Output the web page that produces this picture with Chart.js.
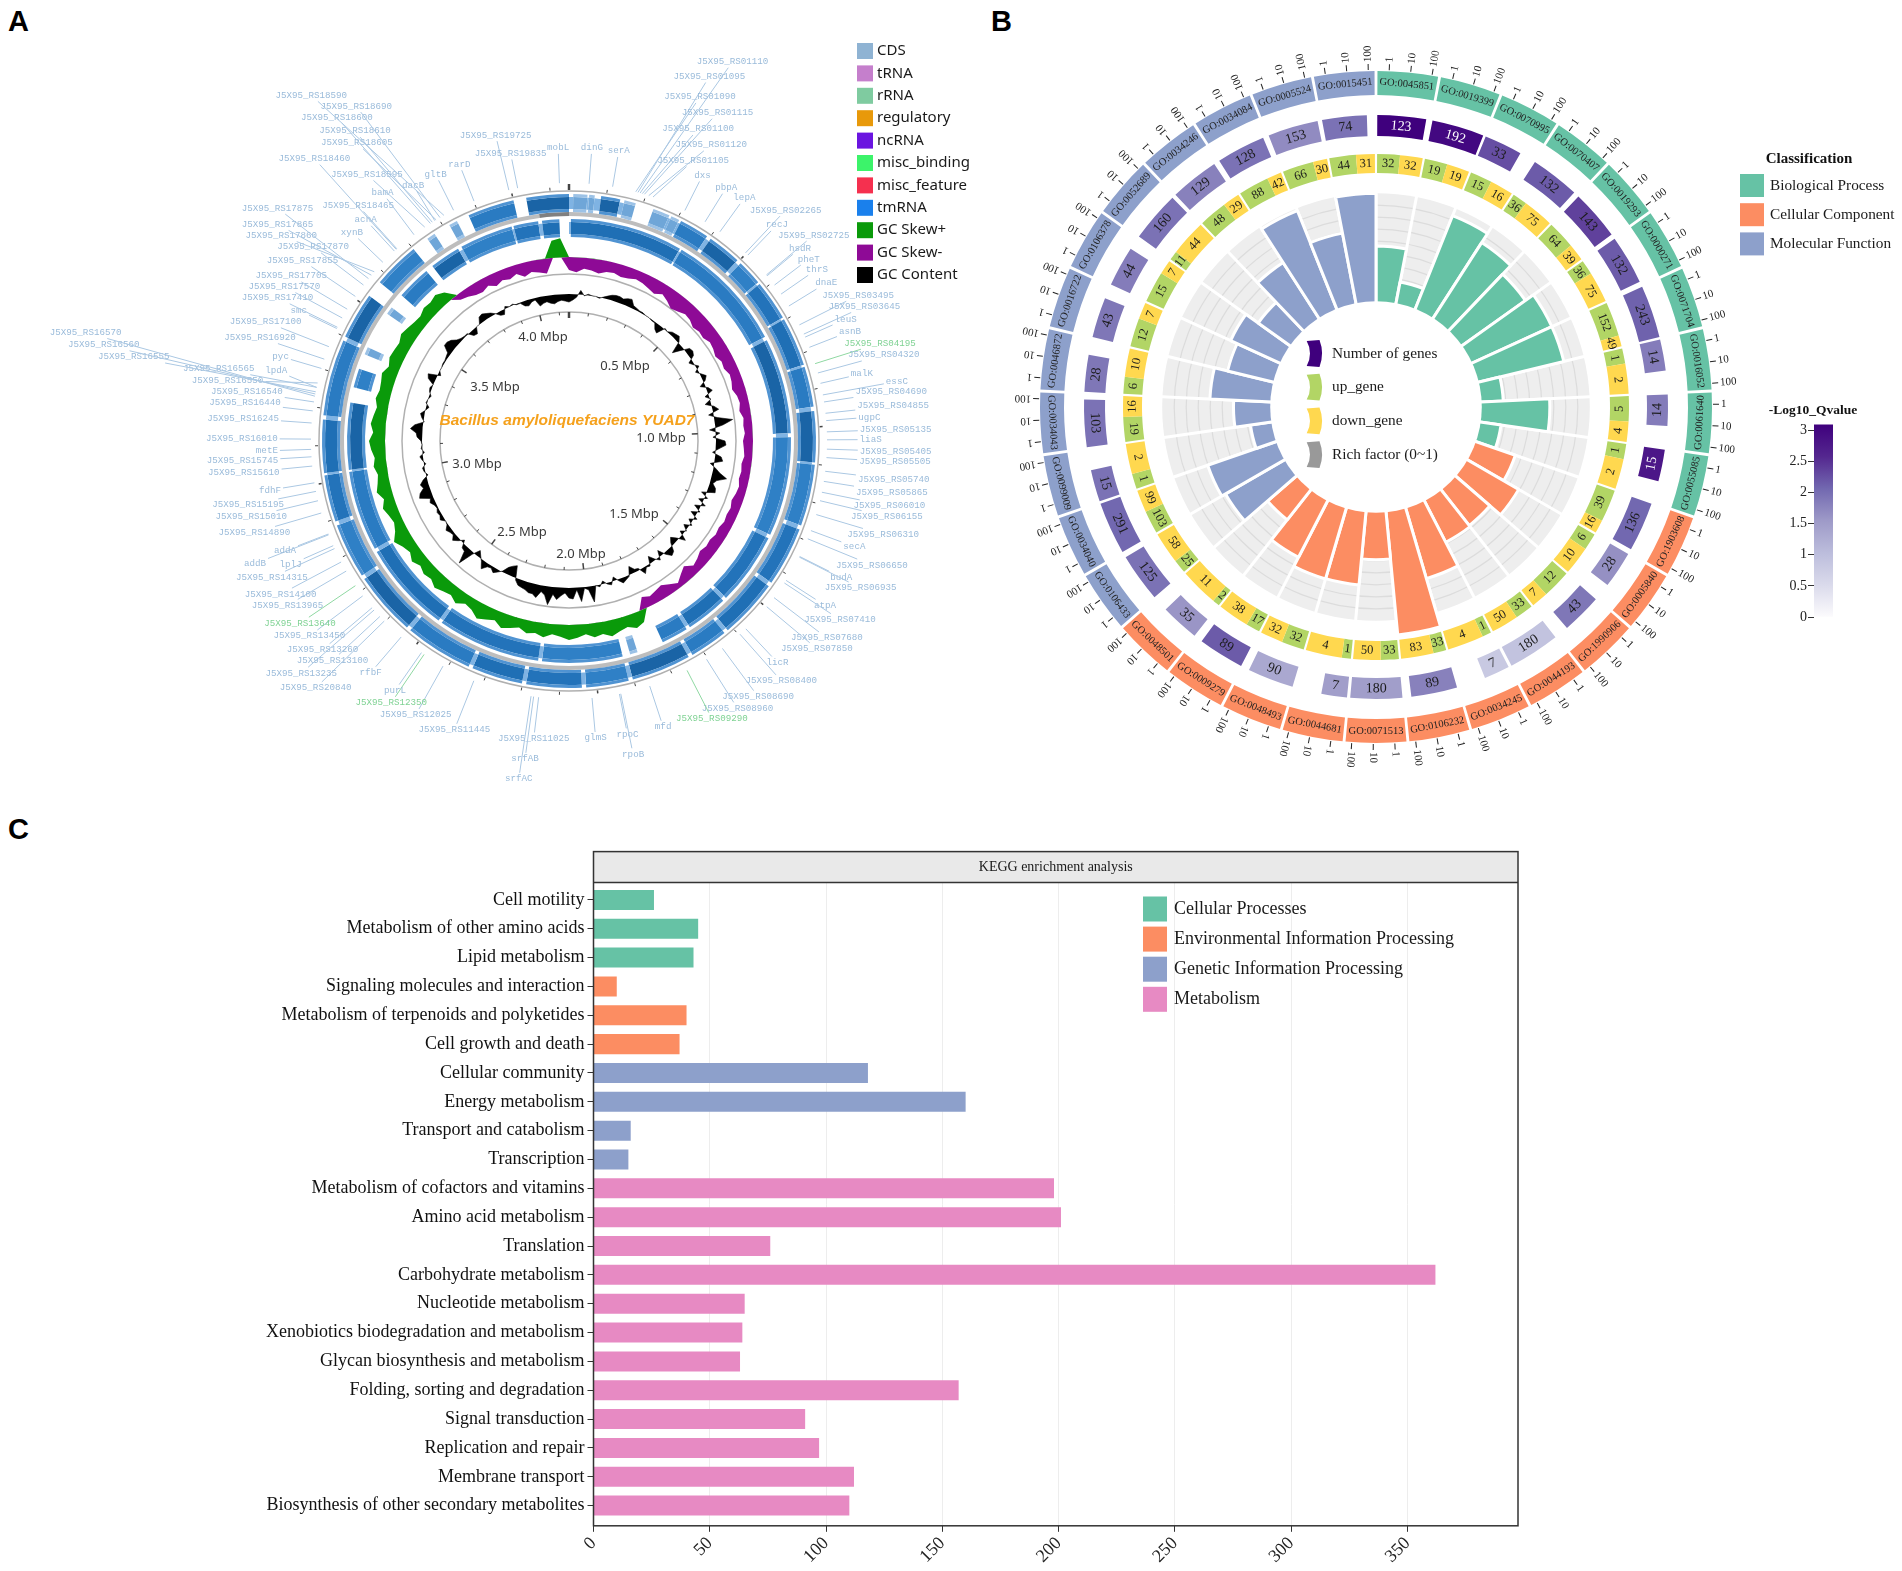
<!DOCTYPE html>
<html>
<head>
<meta charset="utf-8">
<title>Genome, GO and KEGG panels</title>
<script src="https://cdn.jsdelivr.net/npm/chart.js@4/dist/chart.umd.min.js"></script>
<style>
  html, body { margin: 0; background: #fff; }
  #page { position: relative; width: 1902px; height: 1571px; overflow: hidden; background: #fff; }
  #page canvas { position: absolute; }
  .panel-letter { position: absolute; font: bold 29px "Liberation Sans", sans-serif; color: #000; line-height: 1; }
</style>
</head>
<body>
<div id="page">
  <div class="panel-letter" style="left:8px;top:7px">A</div>
  <div class="panel-letter" style="left:991px;top:7px">B</div>
  <div class="panel-letter" style="left:8px;top:815px">C</div>
  <canvas id="genomeTracks" width="1138" height="882" style="left:0;top:0"></canvas>
  <canvas id="genomeSkew" width="1138" height="882" style="left:0;top:0"></canvas>
  <canvas id="genomeContent" width="1138" height="882" style="left:0;top:0"></canvas>
  <canvas id="goRich" width="460" height="460" style="left:1146px;top:177px"></canvas>
  <canvas id="goRings" width="1052" height="814" style="left:850px;top:0"></canvas>
  <canvas id="goScale" width="70" height="215" style="left:1770px;top:415px"></canvas>
  <canvas id="kegg" width="1902" height="731" style="left:0;top:840px"></canvas>
</div>
<script>
// ---------- panel C data
const keggLabels = ['Cell motility', 'Metabolism of other amino acids', 'Lipid metabolism', 'Signaling molecules and interaction',
  'Metabolism of terpenoids and polyketides', 'Cell growth and death', 'Cellular community', 'Energy metabolism',
  'Transport and catabolism', 'Transcription', 'Metabolism of cofactors and vitamins', 'Amino acid metabolism', 'Translation',
  'Carbohydrate metabolism', 'Nucleotide metabolism', 'Xenobiotics biodegradation and metabolism', 'Glycan biosynthesis and metabolism',
  'Folding, sorting and degradation', 'Signal transduction', 'Replication and repair', 'Membrane transport', 'Biosynthesis of other secondary metabolites'];
const keggValues = [26, 45, 43, 10, 40, 37, 118, 160, 16, 15, 198, 201, 76, 362, 65, 64, 63, 157, 91, 97, 112, 110];
const keggGroups = [0, 0, 0, 1, 1, 1, 2, 2, 2, 2, 3, 3, 3, 3, 3, 3, 3, 3, 3, 3, 3, 3];
const keggGroupNames = ['Cellular Processes', 'Environmental Information Processing', 'Genetic Information Processing', 'Metabolism'];
const keggTicks = [0, 50, 100, 150, 200, 250, 300, 350];
const set2 = ['#66C2A5', '#FC8D62', '#8DA0CB', '#E78AC3'];

// ---------- panel B data, clockwise from 12 o'clock
const goTerms = ['0045851', '0019399', '0070995', '0070407', '0019293', '0000271', '0071704', '0016052', '0061640', '0055085',
  '1903608', '0005840', '1990906', '0044193', '0034245', '0106232', '0071513', '0044681', '0048493', '0009279', '0048501',
  '0106433', '0034040', '0099009', '0034043', '0046872', '0016722', '0106378', '0052689', '0034246', '0034084', '0005524', '0015451'];
const goClass = [0,0,0,0,0,0,0,0,0,0, 1,1,1,1,1,1,1,1,1,1,1, 2,2,2,2,2,2,2,2,2,2,2,2];
const goGenes = [123, 192, 33, 132, 143, 132, 243, 14, 14, 15, 136, 28, 43, 180, 7, 89, 180, 7, 90, 89, 35, 125, 291, 15, 103, 28, 43, 44, 160, 129, 128, 153, 74];
const goQvalue = [3, 2.9, 2.2, 2.1, 2.3, 2.1, 2.05, 1.8, 1.8, 2.7, 2, 1.6, 1.85, 0.9, 0.8, 1.75, 1.45, 1.45, 1.3, 2.1, 1.55, 1.9, 2, 1.9, 1.9, 1.85, 1.85, 1.8, 1.9, 1.75, 1.9, 1.65, 1.9];
const goUp = [32, 19, 15, 36, 64, 36, 152, 1, 5, 1, 39, 6, 12, 33, 1, 33, 33, 1, 32, 17, 2, 25, 103, 1, 19, 6, 12, 15, 11, 48, 88, 66, 44];
const goDown = [32, 19, 16, 75, 39, 75, 49, 2, 4, 2, 16, 10, 7, 50, 4, 83, 50, 4, 32, 38, 11, 58, 99, 2, 16, 10, 7, 7, 44, 29, 42, 30, 31];
const goRich = [.51, .2, .93, .83, .72, .81, .81, .2, .63, .19, .386, .546, .417, .43, .676, 1.14, .435, .676, .68, .586, .35, .63, .67, .195, .34, .56, .435, .5, .36, .61, .98, .66, 1];
const classNames = ['Biological Process', 'Cellular Component', 'Molecular Function'];
const classColors = ['#66C2A5', '#FC8D62', '#8DA0CB'];
const qTicks = [0, .5, 1, 1.5, 2, 2.5, 3];
const qColors = ['#FCFBFD', '#DADAEB', '#BCBDDC', '#9E9AC8', '#7268B0', '#54278F', '#3F007D'];
const centreLegend = [['Number of genes', '#3F007D'], ['up_gene', '#B2D565'], ['down_gene', '#FFD84F'], ['Rich factor (0~1)', '#999999']];

// ---------- panel A data
const genomeLegend = [['CDS', '#8FB3D3'], ['tRNA', '#C57FCC'], ['rRNA', '#7FCBA0'], ['regulatory', '#E8990A'], ['ncRNA', '#6A14E0'],
  ['misc_binding', '#3CF36A'], ['misc_feature', '#F5304F'], ['tmRNA', '#1A80EC'], ['GC Skew+', '#0A9A0A'], ['GC Skew-', '#8E0A96'], ['GC Content', '#000000']];
// GC skew, one reading every 2.5 degrees clockwise from the origin
const gcSkew = [-13,-15,-11,-12,-14,-11,-10,-12,-11,-9, -10,-12,-14,-10,-13,-17,-15,-12,-13,-16, -14,-15,-12,-13,-15,-12,-13,-10,-11,-13,
  -10,-9,-11,-8,-9,-8,-10,-9,-8,-10, -9,-10,-8,-9,-11,-9,-10,-9,-11,-10, -12,-11,-13,-10,-8,-14,-10,-5,-9,-13,-11,-9,-12,
  12,15,11,13,16,12,14,10,13,15, 12,10,14,11,13,9,12,15,10,13, 16,11,9,14,10,12,15,11,13,10, 14,10,13,18,12,9,11,14,10,15,
  12,10,13,11,14,16,12,15,13,11, 14,12,13,15,11,14,13,12,15,13, 11,10,13,12,14,10,
  -6,-8,-11,-12,-9,-13,-10,-12,-9,-14,-11,-13,-15, 17,19];
const skewBins = gcSkew.map((_, i) => i * 2.5);
// GC content, one reading every 1.5 degrees
const gcContent = [-8,-6,-3,4,-1,1,0,0,-1,1, 3,5,6,6,5,7,8,3,2,1, 1,0,0,-1,-1,-6,-8,1,0,3, 4,5,1,-11,-3,5,6,4,-4,-1,
  3,-3,1,5,2,-5,2,5,-4,1, -6,2,6,-5,3,18,8,-6,4,-3, 9,10,3,-3,6,8,-4,2,7,15, 6,3,7,8,-5,3,-5,4,-6,2,
  -6,3,-4,2,-5,1,-4,6,-2,-7, -3,5,7,2,-6,3,-1,-7,2,1, 6,-2,-3,-8,1,3,5,1,-4,3, 1,-3,2,0,16,3,1,14,2,11,
  10,5,8,12,7,18,9,6,13,10, 10,8,7,6,2,-12,-10,-7,-1,2, 5,2,3,8,2,-2,-6,2,17,5, 4,-3,2,6,2,3,5,1,0,4,
  2,3,1,2,5,3,13,11,6,8, 4,-2,1,2,-2,1,3,-2,1,0, 1,5,6,12,8,-1,2,4,0,-3, 1,0,-2,1,2,0,7,9,-3,0,
  0,1,1,2,3,10,10,8,4,2, 1,1,-5,-6,0,0,6,7,5,3, 0,-4,-5,2,0,1,-1,-1,-5,-6, -3,-2,-9,-7,-6,-8,-9,-7,-6,-7];
const contentBins = gcContent.map((_, i) => i * 1.5);
// gene intervals in degrees, start and end in turn
const outerGenes = [1,4.3, 4.7,6, 7.5,12, 13,15.7, 20,24, 24.5,26.5, 27,34, 35,43, 44,50, 50.5,60, 60.5,72, 72.5,82, 83,95, 95.5,110, 111,125, 126,140,
  141,150, 151,165, 166,176, 177,190, 191,203, 204,220, 221,236, 237,250, 251,262, 262.5,275, 276,294, 295,306, 310,321, 325,327, 331,333, 336,347, 350,360];
const innerGenes = [0.5,30, 30.5,62, 63,88, 89,115, 116,135, 136,147, 148,155, 162,164, 166,187, 188,215, 216,240, 241,262, 262.5,280,
  284,289, 293,295, 305,307, 311,320, 322,330, 331,345, 345.5,352, 353,357.5];
// name, text centre, optional angle where the leader meets the map
const geneLabels = [['J5X95_RS01110',1172,121,16],['J5X95_RS01095',1135,150,15.5],['J5X95_RS01090',1120,190,15],['J5X95_RS01115',1148,221,17],['J5X95_RS01100',1117,253,16.5],
  ['J5X95_RS01120',1138,284,18],['J5X95_RS01105',1109,315,19],['dxs',1124,344],['pbpA',1162,368],['lepA',1191,388],['J5X95_RS02265',1257,412],['recJ',1243,441],
  ['J5X95_RS02725',1302,461],['hsdR',1280,487],['pheT',1294,508],['thrS',1307,528],['dnaE',1322,555],['J5X95_RS03495',1373,579],['J5X95_RS03645',1383,601],['leuS',1353,626],
  ['asnB',1360,650],['J5X95_RS04195',1408,673],['J5X95_RS04320',1414,696],['malK',1379,733],['essC',1435,748],['J5X95_RS04690',1426,768],['J5X95_RS04855',1429,796],['ugpC',1391,818],
  ['J5X95_RS05135',1433,842],['liaS',1393,862],['J5X95_RS05405',1433,885],['J5X95_RS05505',1432,906],['J5X95_RS05740',1430,940],['J5X95_RS05865',1427,965],['J5X95_RS06010',1423,992],
  ['J5X95_RS06155',1419,1013],['J5X95_RS06310',1413,1048],['secA',1367,1072],['J5X95_RS06650',1395,1108],['budA',1346,1132],['J5X95_RS06935',1377,1153],['atpA',1320,1187],
  ['J5X95_RS07410',1344,1215],['J5X95_RS07680',1323,1251],['J5X95_RS07850',1307,1272],['licR',1244,1299],['J5X95_RS08400',1250,1335],['J5X95_RS08690',1213,1366],['J5X95_RS08960',1180,1389],
  ['J5X95_RS09290',1139,1409],['mfd',1061,1425],['rpoC',1004,1440],['rpoB',1013,1479],['glmS',953,1447],['J5X95_RS11025',854,1448],['srfAB',840,1488],['srfAC',830,1527],
  ['J5X95_RS11445',727,1431],['J5X95_RS12025',665,1402],['J5X95_RS12350',626,1378],['purL',632,1354],['J5X95_RS20840',505,1349],['rfbF',593,1319],['J5X95_RS13235',482,1320],
  ['J5X95_RS13100',532,1295],['J5X95_RS13260',516,1274],['J5X95_RS13450',495,1247],['J5X95_RS13640',480,1222],['J5X95_RS13965',460,1187],['J5X95_RS14100',449,1165],['J5X95_RS14315',435,1132],
  ['addB',408,1105],['lplJ',465,1107],['addA',456,1080],['J5X95_RS14890',407,1044],['J5X95_RS15010',402,1013],['J5X95_RS15195',397,990],['fdhF',432,961],['J5X95_RS15610',390,927],
  ['J5X95_RS15745',388,904],['metE',427,884],['J5X95_RS16010',387,860],['J5X95_RS16245',389,820],['J5X95_RS16440',392,790],['J5X95_RS16540',395,768],['J5X95_RS16550',364,746,283],
  ['lpdA',442,727,282],['J5X95_RS16565',350,723,282],['pyc',449,699],['J5X95_RS16555',214,700,281],['J5X95_RS16560',166,676,280.5],['J5X95_RS16570',137,652,280],['J5X95_RS16920',416,662],
  ['J5X95_RS17100',425,631],['smc',478,608],['J5X95_RS17410',444,584],['J5X95_RS17570',455,562],['J5X95_RS17705',466,541],['J5X95_RS17855',484,511],['J5X95_RS17870',501,484],
  ['J5X95_RS17860',450,462,311],['J5X95_RS17865',444,440,310],['xynB',563,456],['acnA',585,431],['J5X95_RS17875',444,408,309],['J5X95_RS18465',573,403],['bamA',612,378],
  ['J5X95_RS18595',587,342,326],['J5X95_RS18460',503,311],['dacB',661,363],['J5X95_RS18605',571,280,329],['J5X95_RS18610',568,257,328],['J5X95_RS18600',539,230,327.5],
  ['J5X95_RS18690',570,208,330],['J5X95_RS18590',498,187,331],['gltB',697,342],['rarD',735,322],['J5X95_RS19725',793,265],['J5X95_RS19835',817,301],['mobL',893,290],['dinG',947,290],['serA',990,296]];
const greenLabels = ['J5X95_RS04195', 'J5X95_RS09290', 'J5X95_RS12350', 'J5X95_RS13640'];
const mbpLabels = [['0.5 Mbp', 625, 366], ['1.0 Mbp', 661, 438], ['1.5 Mbp', 634, 514], ['2.0 Mbp', 581, 554], ['2.5 Mbp', 522, 532], ['3.0 Mbp', 477, 464], ['3.5 Mbp', 495, 387], ['4.0 Mbp', 543, 337]];
const GENOME_MBP = 4.15;

// ---------- shared bits
const SERIF = '"Liberation Serif", serif';
const TAU = Math.PI * 2;
const CLEAR = 'rgba(0,0,0,0)';
const base = { responsive: false, animation: false, events: [] };
const quiet = { legend: { display: false }, tooltip: { enabled: false } };

function swatchLegend(ctx, items, box, font) {
  ctx.save();
  ctx.font = font;
  ctx.textBaseline = 'middle';
  ctx.textAlign = 'left';
  items.forEach(([name, color], i) => {
    const y = box.y + i * box.step;
    ctx.fillStyle = color;
    ctx.fillRect(box.x, y - box.h / 2, box.w, box.h);
    ctx.fillStyle = '#1a1a1a';
    ctx.fillText(name, box.x + box.w + box.pad, y);
  });
  ctx.restore();
}

function qColor(q) {
  const t = Math.min(q / 0.5, qColors.length - 1.001);
  const i = Math.floor(t), f = t - i;
  const rgb = h => [1, 3, 5].map(k => parseInt(h.slice(k, k + 2), 16));
  const a = rgb(qColors[i]), b = rgb(qColors[i + 1]);
  return 'rgb(' + a.map((v, k) => Math.round(v + (b[k] - v) * f)).join(',') + ')';
}

// ---------- panel A: gene tracks, each one a dark core between two lighter edges
function trackRings(genes) {
  const tones = ['#1F6FB5', '#2A7BC2', '#1A64A6', '#2F80C6', '#2373BA'];
  const data = [], core = [], edge = [];
  let at = 0;
  for (let i = 0; i < genes.length; i += 2) {
    const gap = genes[i] - at, len = genes[i + 1] - genes[i];
    data.push(gap, len);
    core.push(gap < 1.6 ? '#7FB3E3' : CLEAR, len < 4.5 ? '#6FA6D8' : tones[(i / 2) % tones.length]);
    edge.push(CLEAR, len < 4.5 ? '#9CC2E6' : '#4F93D2');
    at = genes[i + 1];
  }
  if (at < 360) { data.push(360 - at); core.push(CLEAR); edge.push(CLEAR); }
  return [
    { data, backgroundColor: edge, weight: 3, borderWidth: 0 },
    { data, backgroundColor: core, weight: 12, borderWidth: 0 },
    { data, backgroundColor: edge, weight: 3, borderWidth: 0 }
  ];
}

new Chart(document.getElementById('genomeTracks'), {
  type: 'doughnut',
  data: {
    datasets: [
      ...trackRings(outerGenes),
      { data: [352.5, 7.5], backgroundColor: ['#BDBDBD', '#808080'], weight: 4, borderWidth: 0 },
      { data: [1], backgroundColor: CLEAR, weight: 3, borderWidth: 0 },
      ...trackRings(innerGenes)
    ]
  },
  options: { ...base, radius: 247, cutout: (204 / 247 * 100) + '%', plugins: quiet }
});

// ---------- panel A: skew, content, labels
const SKEW_BASE = 184;
const CONTENT_BASE = 147;

const genomeDecor = {
  id: 'genomeDecor',
  afterDatasetsDraw(chart) {
    const { ctx } = chart;
    const scale = chart.scales.r;
    const cx = scale.xCenter, cy = scale.yCenter;
    const polar = (deg, r) => [cx + r * Math.sin(deg * Math.PI / 180), cy - r * Math.cos(deg * Math.PI / 180)];
    ctx.save();
    // ticks every 0.1 Mbp on the inner and outer circles
    for (let k = 0; k * 0.1 < GENOME_MBP; k++) {
      const deg = k * 0.1 / GENOME_MBP * 360;
      const major = k % 5 === 0;
      ctx.strokeStyle = '#444';
      ctx.lineWidth = k === 0 ? 2.5 : major ? 1.5 : 1;
      let a = polar(deg, 129), b = polar(deg, major ? 123 : 126);
      ctx.beginPath(); ctx.moveTo(a[0], a[1]); ctx.lineTo(b[0], b[1]); ctx.stroke();
      a = polar(deg, 251); b = polar(deg, k === 0 ? 257 : 254);
      ctx.beginPath(); ctx.moveTo(a[0], a[1]); ctx.lineTo(b[0], b[1]); ctx.stroke();
    }
    ctx.textAlign = 'center';
    ctx.textBaseline = 'middle';
    ctx.fillStyle = '#3a3a3a';
    ctx.font = '13px "Noto Sans", sans-serif';
    mbpLabels.forEach(([t, x, y]) => ctx.fillText(t, x, y));
    ctx.fillStyle = '#F5A11C';
    ctx.font = 'italic bold 15.5px "Liberation Sans", sans-serif';
    ctx.fillText('Bacillus amyloliquefaciens YUAD7', 567, 421);

    // gene labels and their leaders
    ctx.font = '9.2px "Liberation Mono", monospace';
    ctx.lineWidth = 1;
    geneLabels.forEach(([name, zx, zy, anchor]) => {
      const x = zx * 0.625, y = zy * 0.51;
      const green = greenLabels.includes(name);
      const color = green ? '#7FD293' : '#9ABBDA';
      const deg = anchor !== undefined ? anchor : Math.atan2(x - cx, cy - y) * 180 / Math.PI;
      const [tx, ty] = polar(deg, 258);
      const hw = ctx.measureText(name).width / 2 + 2, hh = 6;
      const dx = tx - x, dy = ty - y;
      const t = Math.min(hw / Math.abs(dx || 1e-6), hh / Math.abs(dy || 1e-6));
      ctx.strokeStyle = green ? '#8FD8A2' : '#ABC8E3';
      if (t < 1) {
        ctx.beginPath(); ctx.moveTo(x + dx * t, y + dy * t); ctx.lineTo(tx, ty); ctx.stroke();
      }
      ctx.fillStyle = color;
      ctx.fillText(name, x, y);
    });
    swatchLegend(ctx, genomeLegend, { x: 857, y: 51, step: 22.4, w: 16, h: 16, pad: 4 }, '15px "Noto Sans", sans-serif');
    ctx.restore();
  }
};

function radialOptions(circles) {
  return {
    ...base,
    plugins: quiet,
    elements: { point: { radius: 0 }, line: { tension: 0 } },
    scales: {
      r: {
        min: 0, max: 441,
        afterBuildTicks: s => { s.ticks = [0, ...circles].map(value => ({ value })); },
        ticks: { display: false },
        grid: { circular: true, color: circles.length ? '#B0B0B0' : CLEAR, lineWidth: 1.5 },
        angleLines: { display: false },
        pointLabels: { display: false }
      }
    }
  };
}

new Chart(document.getElementById('genomeSkew'), {
  type: 'radar',
  data: {
    labels: skewBins,
    datasets: [
      { label: 'GC Skew+', data: gcSkew.map(v => SKEW_BASE + Math.max(v, 0)), backgroundColor: '#0A9A0A', fill: { value: SKEW_BASE }, borderWidth: 0 },
      { label: 'GC Skew-', data: gcSkew.map(v => SKEW_BASE + Math.min(v, 0)), backgroundColor: '#8E0A96', fill: { value: SKEW_BASE }, borderWidth: 0 }
    ]
  },
  options: radialOptions([129, 167, 250]),
  plugins: [genomeDecor]
});

new Chart(document.getElementById('genomeContent'), {
  type: 'radar',
  data: {
    labels: contentBins,
    datasets: [{ label: 'GC Content', data: gcContent.map(v => CONTENT_BASE + v), backgroundColor: '#000', borderColor: '#000', fill: { value: CONTENT_BASE }, borderWidth: 0.6 }]
  },
  options: radialOptions([])
});

// ---------- panel B: rings
const SECTOR = 360 / goTerms.length;
const GO_GAP = 0.5;
const TICK_DEG = [2, 5.67, 9.34];
const TICK_TEXT = ['1', '10', '100'];
const spacer = weight => ({ data: [1], backgroundColor: CLEAR, weight, borderWidth: 0, cellText: [''] });

const termRing = { data: [], backgroundColor: [], cellText: [], cellFont: '10.5px ' + SERIF, cellColor: [], weight: 24, borderWidth: 0 };
const geneRing = { data: [], backgroundColor: [], cellText: [], cellFont: '14px ' + SERIF, cellColor: [], weight: 21, borderWidth: 0 };
const splitRing = { data: [], backgroundColor: [], cellText: [], cellFont: '12.5px ' + SERIF, cellColor: [], weight: 19, borderWidth: 0 };
goTerms.forEach((term, i) => {
  termRing.data.push(SECTOR - GO_GAP, GO_GAP);
  termRing.backgroundColor.push(classColors[goClass[i]], CLEAR);
  termRing.cellText.push('GO:' + term, '');
  termRing.cellColor.push('#222', '#222');

  // arc length follows the 1/10/100 ticks of the sector, so it is logarithmic in the gene count
  const w = Math.min(SECTOR - GO_GAP, TICK_DEG[0] + (TICK_DEG[1] - TICK_DEG[0]) * Math.log10(goGenes[i]));
  geneRing.data.push(w, SECTOR - w);
  geneRing.backgroundColor.push(qColor(goQvalue[i]), CLEAR);
  geneRing.cellText.push(String(goGenes[i]), '');
  geneRing.cellColor.push(goQvalue[i] > 2.6 ? '#fff' : '#1c1c1c', '#fff');

  const span = SECTOR - GO_GAP, total = goUp[i] + goDown[i];
  splitRing.data.push(span * goUp[i] / total, span * goDown[i] / total, GO_GAP);
  splitRing.backgroundColor.push('#B2D565', '#FFD84F', CLEAR);
  splitRing.cellText.push(String(goUp[i]), String(goDown[i]), '');
  splitRing.cellColor.push('#1c1c1c', '#1c1c1c', '#1c1c1c');
});

const ringText = {
  id: 'ringText',
  afterDatasetsDraw(chart) {
    const { ctx } = chart;
    ctx.save();
    ctx.textAlign = 'center';
    ctx.textBaseline = 'middle';
    chart.data.datasets.forEach((ds, d) => {
      if (!ds.cellFont) return;
      ctx.font = ds.cellFont;
      chart.getDatasetMeta(d).data.forEach((arc, i) => {
        const text = ds.cellText[i];
        if (!text) return;
        const { x, y, startAngle, endAngle, innerRadius, outerRadius } = arc.getProps(['x', 'y', 'startAngle', 'endAngle', 'innerRadius', 'outerRadius']);
        const mid = (startAngle + endAngle) / 2;
        const r = (innerRadius + outerRadius) / 2;
        const theta = mid + Math.PI / 2;
        ctx.save();
        ctx.translate(x + r * Math.cos(mid), y + r * Math.sin(mid));
        ctx.rotate(theta > Math.PI / 2 && theta < Math.PI * 1.5 ? theta - Math.PI : theta);
        ctx.fillStyle = ds.cellColor[i];
        ctx.fillText(text, 0, 0);
        ctx.restore();
      });
    });

    // log ticks outside the term ring
    ctx.font = '11px ' + SERIF;
    ctx.textAlign = 'left';
    ctx.fillStyle = '#222';
    ctx.strokeStyle = '#222';
    ctx.lineWidth = 1;
    const terms = chart.getDatasetMeta(0).data;
    for (let i = 0; i < terms.length; i += 2) {
      const { x, y, startAngle, outerRadius } = terms[i].getProps(['x', 'y', 'startAngle', 'outerRadius']);
      TICK_DEG.forEach((deg, t) => {
        const a = startAngle + deg * Math.PI / 180;
        ctx.save();
        ctx.translate(x, y);
        ctx.rotate(a);
        ctx.beginPath(); ctx.moveTo(outerRadius + 1, 0); ctx.lineTo(outerRadius + 7, 0); ctx.stroke();
        ctx.fillText(TICK_TEXT[t], outerRadius + 9, 0);
        ctx.restore();
      });
    }

    // page coordinates from here on
    ctx.translate(-850, 0);
    ctx.font = 'bold 15px ' + SERIF;
    ctx.fillStyle = '#111';
    ctx.textAlign = 'center';
    ctx.fillText('Classification', 1809, 159);
    swatchLegend(ctx, classNames.map((n, i) => [n, classColors[i]]), { x: 1740, y: 185.5, step: 29.2, w: 24, h: 23, pad: 6 }, '15.3px ' + SERIF);
    ctx.font = 'bold 13.5px ' + SERIF;
    ctx.fillStyle = '#111';
    ctx.textAlign = 'center';
    ctx.fillText('-Log10_Qvalue', 1813, 411);

    // centre legend with small ring pieces
    centreLegend.forEach(([name, color], i) => {
      const yy = 353.5 + i * 33.7;
      ctx.fillStyle = color;
      ctx.beginPath();
      ctx.arc(1285, yy, 37, -0.37, 0.37);
      ctx.arc(1285, yy, 25, 0.52, -0.52, true);
      ctx.closePath();
      ctx.fill();
      ctx.fillStyle = '#1a1a1a';
      ctx.font = '15.3px ' + SERIF;
      ctx.textAlign = 'left';
      ctx.fillText(name, 1332, yy);
    });
    ctx.restore();
  }
};

new Chart(document.getElementById('goRings'), {
  type: 'doughnut',
  data: { datasets: [termRing, spacer(20), geneRing, spacer(18), splitRing] },
  options: { ...base, radius: 336, cutout: (234 / 336 * 100) + '%', rotation: 0.25, plugins: quiet },
  plugins: [ringText]
});

// ---------- panel B: rich factor bars
const richBack = {
  id: 'richBack',
  beforeDraw(chart) {
    const s = chart.scales.r, ctx = chart.ctx;
    ctx.save();
    ctx.fillStyle = '#EEEEEE';
    ctx.beginPath();
    ctx.arc(s.xCenter, s.yCenter, s.getDistanceFromCenterForValue(1), 0, TAU);
    ctx.fill();
    ctx.restore();
  },
  afterDatasetsDraw(chart) {
    const s = chart.scales.r, ctx = chart.ctx;
    ctx.save();
    ctx.fillStyle = '#fff';
    ctx.beginPath();
    ctx.arc(s.xCenter, s.yCenter, s.getDistanceFromCenterForValue(0), 0, TAU);
    ctx.fill();
    ctx.restore();
  }
};

new Chart(document.getElementById('goRich'), {
  type: 'polarArea',
  data: {
    labels: goTerms,
    datasets: [{ data: goRich, backgroundColor: goClass.map(c => classColors[c]), borderColor: '#fff', borderWidth: 3 }]
  },
  options: {
    ...base,
    plugins: quiet,
    scales: {
      r: {
        min: -0.9796, max: 1.15, startAngle: 0,
        afterBuildTicks: s => { s.ticks = [-0.9796, 1, 2, 3, 4, 5, 6, 7, 8].map((v, i) => ({ value: i ? v / 9 : v })); },
        ticks: { display: false },
        grid: { circular: true, color: '#DCDCDC', lineWidth: 1.2 },
        angleLines: { display: true, color: '#fff', lineWidth: 3 },
        pointLabels: { display: false }
      }
    }
  },
  plugins: [richBack]
});

// ---------- panel B: colour bar
new Chart(document.getElementById('goScale'), {
  type: 'bar',
  data: {
    labels: [''],
    datasets: [{
      data: [3.096],
      barPercentage: 1,
      categoryPercentage: 1,
      backgroundColor: c => {
        const { ctx, chartArea } = c.chart;
        if (!chartArea) return '#7268B0';
        const g = ctx.createLinearGradient(0, chartArea.bottom, 0, chartArea.top);
        qColors.forEach((col, i) => g.addColorStop(i / (qColors.length - 1), col));
        return g;
      }
    }]
  },
  options: {
    ...base,
    plugins: quiet,
    layout: { padding: { top: 9, bottom: 13, right: 7, left: 0 }, autoPadding: false },
    scales: {
      x: { display: false },
      y: {
        min: 0, max: 3.096,
        afterFit: s => { s.width = 44; },
        afterBuildTicks: s => { s.ticks = qTicks.map(value => ({ value })); },
        ticks: { font: { family: 'Liberation Serif', size: 14 }, color: '#222', padding: 1, callback: v => v },
        grid: { drawOnChartArea: false, tickLength: 6, tickColor: '#333' },
        border: { display: false }
      }
    }
  }
});

// ---------- panel C
const keggFrame = {
  id: 'keggFrame',
  beforeDatasetsDraw(chart) {
    const { ctx, chartArea: a } = chart;
    ctx.save();
    ctx.fillStyle = '#E9E9E9';
    ctx.fillRect(a.left, a.top - 31, a.right - a.left, 31);
    ctx.restore();
  },
  afterDraw(chart) {
    const { ctx, chartArea: a } = chart;
    ctx.save();
    ctx.strokeStyle = '#333';
    ctx.lineWidth = 1.5;
    ctx.strokeRect(a.left, a.top - 31, a.right - a.left, a.bottom - a.top + 31);
    ctx.beginPath(); ctx.moveTo(a.left, a.top); ctx.lineTo(a.right, a.top); ctx.stroke();
    ctx.fillStyle = '#1a1a1a';
    ctx.font = '14px ' + SERIF;
    ctx.textAlign = 'center';
    ctx.textBaseline = 'middle';
    ctx.fillText('KEGG enrichment analysis', (a.left + a.right) / 2, a.top - 15);
    swatchLegend(ctx, keggGroupNames.map((n, i) => [n, set2[i]]), { x: 1143, y: 69, step: 30.1, w: 24, h: 25, pad: 7 }, '18px ' + SERIF);
    ctx.restore();
  }
};

new Chart(document.getElementById('kegg'), {
  type: 'bar',
  data: {
    datasets: [{
      label: 'KEGG enrichment analysis',
      data: keggValues.map((v, i) => ({ x: v, y: i })),
      backgroundColor: keggGroups.map(g => set2[g]),
      barPercentage: 0.694,
      categoryPercentage: 1
    }]
  },
  options: {
    ...base,
    indexAxis: 'y',
    plugins: quiet,
    layout: { padding: { top: 42.6, right: 384, left: 0, bottom: 0 }, autoPadding: false },
    scales: {
      x: {
        type: 'linear', min: 0, max: 397.5,
        afterFit: s => { s.height = 45.2; },
        afterBuildTicks: s => { s.ticks = keggTicks.map(value => ({ value })); },
        ticks: { maxRotation: 45, minRotation: 45, font: { family: 'Liberation Serif', size: 18 }, color: '#222', padding: 1 },
        grid: { color: '#EDEDED', tickColor: '#333', tickLength: 6 },
        border: { display: false }
      },
      y: {
        type: 'linear', reverse: true, min: -0.6, max: 21.7, offset: false,
        afterFit: s => { s.width = 593.5; },
        afterBuildTicks: s => { s.ticks = keggLabels.map((_, value) => ({ value })); },
        ticks: { autoSkip: false, callback: v => keggLabels[v], font: { family: 'Liberation Serif', size: 18 }, color: '#111', padding: 3 },
        grid: { offset: false, drawOnChartArea: false, tickColor: '#333', tickLength: 6 },
        border: { display: false }
      }
    }
  },
  plugins: [keggFrame]
});
</script>
</body>
</html>
